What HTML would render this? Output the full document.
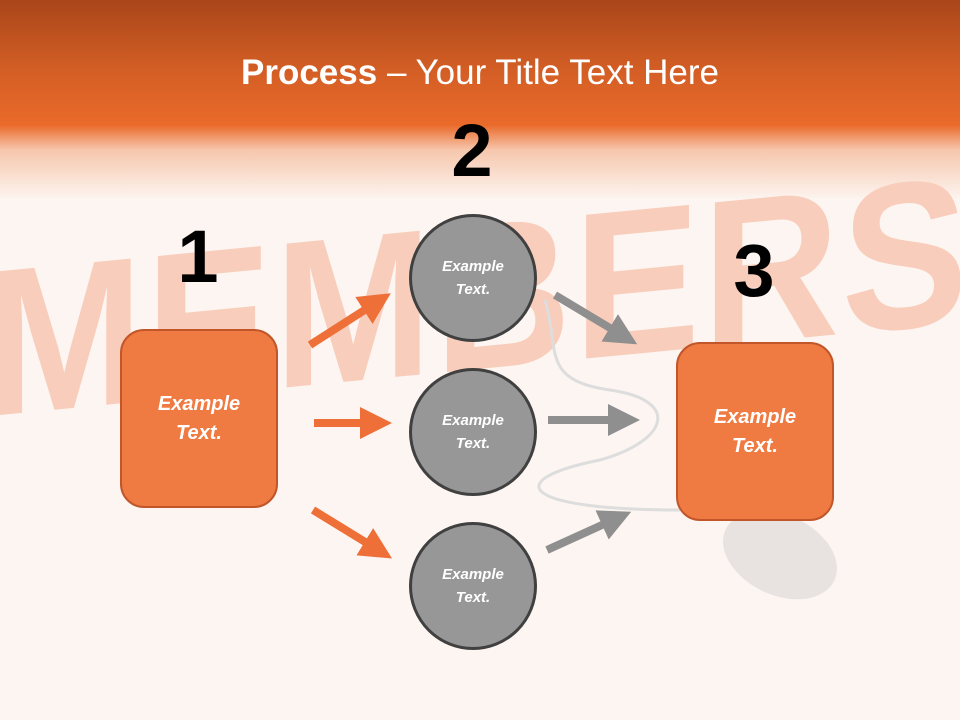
<!DOCTYPE html>
<html><head><meta charset="utf-8"><style>
body{margin:0;width:960px;height:720px;overflow:hidden;background:#fdf5f1;font-family:"Liberation Sans",sans-serif;position:relative}
.hdr{position:absolute;left:0;top:0;width:960px;height:200px;background:linear-gradient(#a9461a 0px,#d35e25 70px,#ea6a2a 125px,#f6c7ad 150px,#fdf5f1 200px)}
.mem{position:absolute;left:-15px;top:225px;font-size:190px;font-weight:bold;color:#f8cdbb;letter-spacing:2px;transform:scaleY(1.1) skewY(-5deg);transform-origin:left top;white-space:nowrap}
.title{position:absolute;top:53px;width:960px;text-align:center;color:#fff;font-size:35px}
.num{position:absolute;font-size:74px;font-weight:bold;color:#000;width:100px;text-align:center}
.box{position:absolute;width:154px;height:175px;background:#ef7a42;border:2px solid #c0562a;border-radius:24px;color:#fff;font-weight:bold;font-style:italic;font-size:20px;display:flex;align-items:center;justify-content:center;text-align:center;line-height:29px}
.c{position:absolute;width:122px;height:122px;border-radius:50%;background:#979797;border:3px solid #404040;color:#fff;font-weight:bold;font-style:italic;font-size:15px;display:flex;align-items:center;justify-content:center;text-align:center;line-height:23px}
svg{position:absolute;left:0;top:0}
</style></head><body>
<div class="hdr"></div>
<div class="mem">MEMBERS</div>
<svg width="960" height="720">
<path d="M545 300 C560 350,540 380,610 390 C680 400,670 440,600 460 C500 480,520 510,680 510" fill="none" stroke="#ddd" stroke-width="3"/>
<ellipse cx="780" cy="555" rx="60" ry="40" fill="#e8e2e0" transform="rotate(25 780 555)"/>
<defs>
<marker id="ao" markerWidth="4" markerHeight="4" refX="1.5" refY="2" orient="auto"><path d="M0,0L4,2L0,4z" fill="#ee7038"/></marker>
<marker id="ag" markerWidth="4" markerHeight="4" refX="1.5" refY="2" orient="auto"><path d="M0,0L4,2L0,4z" fill="#8f8f8f"/></marker>
</defs>
<g stroke-width="8" fill="none">
<line x1="310" y1="345" x2="374" y2="304" stroke="#ee7038" marker-end="url(#ao)"/>
<line x1="314" y1="423" x2="372" y2="423" stroke="#ee7038" marker-end="url(#ao)"/>
<line x1="313" y1="510" x2="375" y2="548" stroke="#ee7038" marker-end="url(#ao)"/>
<line x1="555" y1="295" x2="620" y2="334" stroke="#8f8f8f" marker-end="url(#ag)"/>
<line x1="548" y1="420" x2="620" y2="420" stroke="#8f8f8f" marker-end="url(#ag)"/>
<line x1="547" y1="550" x2="613" y2="520" stroke="#8f8f8f" marker-end="url(#ag)"/>
</g>
</svg>
<div class="title"><b>Process</b> – Your Title Text Here</div>
<div class="num" style="left:148px;top:214px">1</div>
<div class="num" style="left:422px;top:108px">2</div>
<div class="num" style="left:704px;top:228px">3</div>
<div class="box" style="left:120px;top:329px">Example<br>Text.</div>
<div class="box" style="left:676px;top:342px">Example<br>Text.</div>
<div class="c" style="left:409px;top:214px">Example<br>Text.</div>
<div class="c" style="left:409px;top:368px">Example<br>Text.</div>
<div class="c" style="left:409px;top:522px">Example<br>Text.</div>
</body></html>
